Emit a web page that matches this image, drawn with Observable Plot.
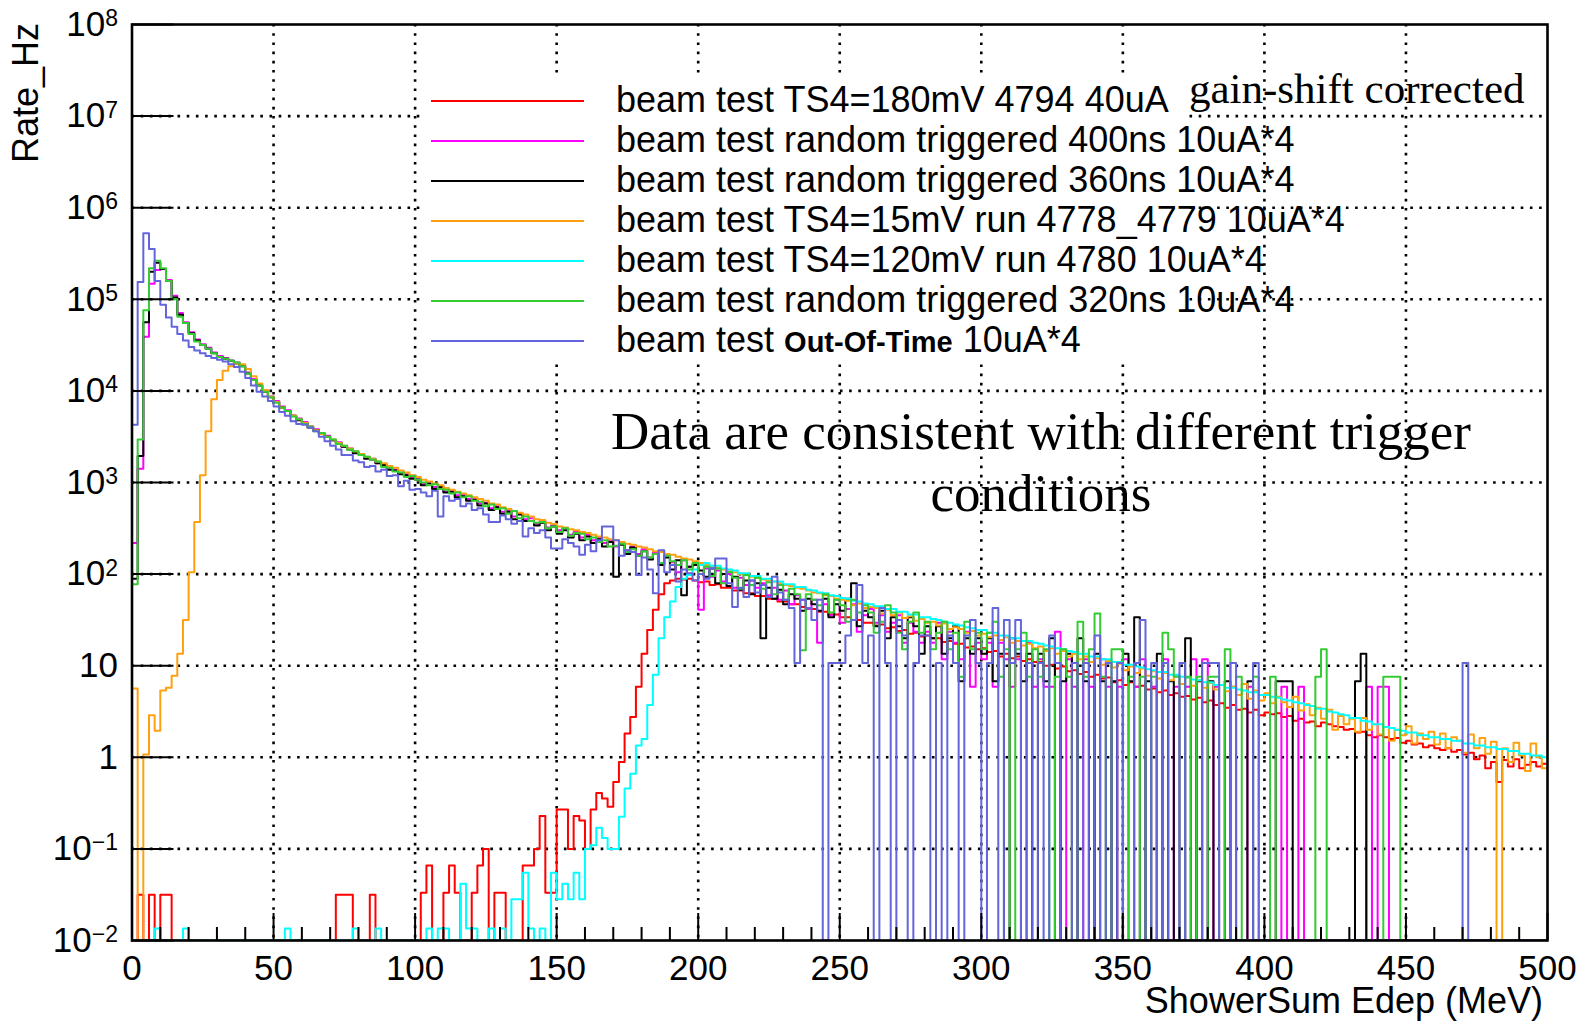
<!DOCTYPE html>
<html><head><meta charset="utf-8">
<script src="https://cdn.jsdelivr.net/npm/d3@7"></script>
<script src="https://cdn.jsdelivr.net/npm/@observablehq/plot@0.6"></script>
<style>
html,body{margin:0;padding:0;background:#fff;overflow:hidden;}
#chart{position:relative;width:1580px;height:1023px;}
</style></head><body><div id="chart"></div>
<script>
// ShowerSum Edep histograms, 2 MeV bins from 0 to 500 MeV.
// Values: log10(Rate in Hz) per bin; -2 = empty bin (ROOT draws it at the axis minimum 1e-2).
const binWidthMeV = 2;
const binLowEdges = d3.range(0, 500, 2);

const seriesLabels = [
  "beam test TS4=180mV 4794 40uA",
  "beam test random triggered 400ns 10uA*4",
  "beam test random triggered 360ns 10uA*4",
  "beam test TS4=15mV run 4778_4779 10uA*4",
  "beam test TS4=120mV run 4780 10uA*4",
  "beam test random triggered 320ns 10uA*4",
  "beam test Out-Of-Time 10uA*4"
];
const seriesColors = ["#ff0000", "#ff00ff", "#000000", "#ffa010", "#00ffff", "#33cc33", "#6464dc"];

const redLog = [
-2,-1.5,-2,-1.5,-2,-1.5,-1.5,-2,-2,-2,
-2,-2,-2,-2,-2,-2,-2,-2,-2,-2,
-2,-2,-2,-2,-2,-2,-2,-2,-2,-2,
-2,-2,-2,-2,-2,-2,-1.5,-1.5,-1.5,-2,
-2,-2,-1.5,-2,-2,-2,-2,-2,-2,-2,
-2,-1.48,-1.18,-2,-2,-1.48,-1.18,-1.48,-2,-2,
-1.48,-1.18,-1.0,-2,-1.48,-1.48,-2,-2,-2,-1.18,
-1.18,-1.0,-0.64,-1.48,-1.48,-0.57,-0.57,-1.0,-0.64,-0.69,
-1.0,-0.57,-0.39,-0.45,-0.54,-0.27,-0.05,0.26,0.44,0.77,
1.13,1.39,1.61,1.78,1.9,1.93,1.95,1.94,1.95,1.93,
1.91,1.92,1.88,1.89,1.85,1.85,1.82,1.82,1.79,1.79,
1.76,1.76,1.73,1.73,1.70,1.70,1.67,1.67,1.64,1.63,
1.62,1.59,1.59,1.56,1.56,1.53,1.53,1.50,1.50,1.47,
1.47,1.44,1.45,1.41,1.42,1.38,1.39,1.35,1.36,1.32,
1.33,1.30,1.30,1.26,1.27,1.24,1.24,1.20,1.21,1.18,
1.19,1.15,1.16,1.10,1.13,1.08,1.10,1.05,1.07,1.04,
1.04,1.00,1.01,0.97,0.99,0.94,0.95,0.91,0.93,0.88,
0.90,0.86,0.87,0.82,0.84,0.79,0.82,0.77,0.78,0.74,
0.75,0.71,0.73,0.68,0.70,0.66,0.67,0.63,0.65,0.60,
0.62,0.57,0.59,0.54,0.57,0.52,0.53,0.49,0.52,0.46,
0.49,0.47,0.48,0.44,0.45,0.40,0.42,0.38,0.39,0.34,
0.38,0.36,0.34,0.33,0.30,0.31,0.27,0.28,0.24,0.22,
0.24,0.22,0.20,0.21,0.16,0.18,0.14,0.15,0.11,0.13,
0.10,0.08,0.10,0.06,0.08,0.03,0.05,-0.02,0.02,-0.12,
-0.05,-0.27,-0.03,-0.10,-0.02,-0.12,-0.08,-0.05,-0.10,-0.07
];

const magentaLog = [
2.34,3.15,4.59,5.17,5.32,5.33,5.21,5.04,4.85,4.75,
4.64,4.56,4.51,4.47,4.42,4.38,4.36,4.33,4.31,4.28,
4.20,4.13,4.07,4.00,3.94,3.89,3.83,3.79,3.73,3.70,
3.66,3.61,3.58,3.54,3.51,3.46,3.44,3.39,3.37,3.33,
3.31,3.27,3.26,3.21,3.20,3.15,3.14,3.10,3.09,3.05,
3.04,2.99,3.00,2.95,2.96,2.90,2.91,2.86,2.87,2.82,
2.82,2.77,2.78,2.72,2.74,2.68,2.70,2.63,2.66,2.60,
2.61,2.55,2.58,2.51,2.53,2.48,2.50,2.43,2.46,2.40,
2.43,2.37,2.40,2.34,2.36,2.30,2.34,2.26,2.30,2.22,
2.27,2.18,2.24,2.10,2.20,2.13,2.02,2.15,2.08,2.11,
1.61,2.06,1.97,2.04,1.92,2.00,1.85,1.96,1.88,1.93,
1.85,1.90,1.77,1.85,1.72,1.82,1.67,1.77,1.72,1.62,
1.72,1.25,1.67,1.55,1.72,1.47,1.62,1.67,1.37,1.55,
1.62,1.47,1.55,1.37,1.47,1.55,1.25,1.47,1.37,1.25,
1.37,1.25,1.47,1.07,1.37,1.25,1.07,1.37,0.77,1.25,
1.07,1.25,0.77,1.25,1.07,0.77,1.07,-2,1.25,0.77,
1.07,0.77,0.77,1.37,-2,1.07,0.77,-2,1.07,0.77,
-2,1.07,0.77,-2,0.77,1.07,-2,0.77,1.07,-2,
0.77,-2,1.07,-2,0.77,-2,0.77,1.07,-2,1.07,
-2,0.77,-2,-2,0.77,-2,-2,0.77,-2,-2,
-2,-2,-2,0.77,-2,-2,0.77,-2,-2,-2,
-2,-2,-2,-2,-2,-2,-2,-2,0.77,-2,
0.77,0.77,-2,-2,-2,-2,-2,-2,-2,-2,
-2,-2,-2,-2,-2,-2,-2,-2,-2,-2,
-2,-2,-2,-2,-2,-2,-2,-2,-2,-2
];

const blackLog = [
1.95,3.29,4.75,5.30,5.40,5.33,5.20,5.02,4.83,4.74,
4.63,4.55,4.50,4.46,4.41,4.37,4.35,4.33,4.30,4.27,
4.19,4.12,4.06,3.99,3.93,3.88,3.82,3.78,3.73,3.68,
3.65,3.60,3.57,3.53,3.50,3.46,3.43,3.39,3.36,3.32,
3.31,3.26,3.25,3.21,3.19,3.14,3.13,3.09,3.08,3.04,
3.03,2.97,2.99,2.93,2.95,2.89,2.90,2.84,2.85,2.80,
2.81,2.75,2.77,2.70,2.73,2.66,2.68,2.60,2.65,2.58,
2.58,2.53,2.56,2.48,2.52,2.44,2.48,2.40,2.44,2.37,
2.41,2.34,2.38,2.30,2.35,1.97,2.32,2.22,2.29,2.20,
2.25,2.16,2.22,2.10,2.18,2.05,2.15,1.77,2.08,2.10,
2.04,1.97,2.06,1.90,2.00,1.87,1.97,1.83,1.93,1.78,
1.90,1.30,1.85,1.73,1.83,1.67,1.78,1.73,1.60,1.73,
1.67,1.60,1.73,1.53,1.67,1.60,1.73,1.90,1.43,1.60,
1.53,1.43,1.60,1.30,1.53,1.43,1.30,1.53,1.43,1.13,
1.43,1.30,1.43,1.13,1.30,1.43,0.83,1.30,1.13,1.30,
1.13,1.30,0.83,1.13,-2,1.30,1.13,0.83,1.13,-2,
1.13,0.83,1.30,-2,0.83,1.13,-2,1.30,0.83,-2,
1.13,0.83,-2,0.83,-2,1.13,0.83,1.53,-2,0.83,
-2,1.13,-2,0.83,-2,-2,1.30,-2,0.83,-2,
0.83,-2,-2,0.83,-2,-2,-2,0.83,-2,-2,
-2,-2,0.83,0.83,0.83,-2,-2,-2,-2,-2,
-2,-2,-2,-2,-2,-2,0.83,1.13,-2,-2,
-2,-2,-2,-2,-2,-2,-2,-2,-2,-2,
-2,-2,-2,-2,-2,-2,-2,-2,-2,-2,
-2,-2,-2,-2,-2,-2,-2,-2,-2,-2
];

const orangeLog = [
0.75,-2,0.03,0.46,0.29,0.73,0.76,0.89,1.13,1.50,
2.02,2.57,3.08,3.56,3.91,4.12,4.22,4.27,4.30,4.29,
4.24,4.16,4.08,4.01,3.94,3.88,3.82,3.78,3.73,3.69,
3.65,3.61,3.57,3.53,3.50,3.47,3.43,3.40,3.37,3.34,
3.31,3.28,3.26,3.23,3.21,3.18,3.16,3.13,3.11,3.08,
3.06,3.03,3.01,2.99,2.97,2.94,2.92,2.90,2.88,2.86,
2.84,2.82,2.80,2.77,2.76,2.73,2.71,2.69,2.67,2.65,
2.63,2.60,2.59,2.56,2.55,2.52,2.51,2.49,2.48,2.46,
2.45,2.43,2.41,2.40,2.38,2.37,2.35,2.33,2.32,2.30,
2.29,2.27,2.25,2.24,2.22,2.21,2.19,2.17,2.16,2.14,
2.12,2.10,2.09,2.07,2.05,2.03,2.02,2.00,1.99,1.97,
1.96,1.94,1.93,1.92,1.90,1.88,1.87,1.85,1.84,1.82,
1.80,1.79,1.77,1.76,1.73,1.72,1.71,1.66,1.68,1.63,
1.64,1.63,1.57,1.61,1.55,1.58,1.52,1.54,1.49,1.51,
1.47,1.48,1.44,1.46,1.40,1.42,1.40,1.36,1.38,1.33,
1.35,1.31,1.33,1.28,1.31,1.25,1.27,1.22,1.24,1.19,
1.21,1.16,1.19,1.13,1.16,1.10,1.13,1.07,1.10,1.04,
1.08,1.01,1.05,0.98,1.02,0.95,0.99,0.92,0.97,0.89,
0.94,0.86,0.92,0.84,0.89,0.80,0.87,0.78,0.84,0.76,
0.81,0.74,0.79,0.72,0.77,0.68,0.80,0.64,0.73,0.62,
0.70,0.59,0.66,0.60,0.55,0.66,0.51,0.58,0.46,0.54,
0.42,0.52,0.30,0.45,0.36,0.42,0.28,0.43,0.30,0.36,
0.25,0.33,0.18,0.30,0.24,0.34,0.15,0.26,0.20,0.28,
0.14,0.26,0.10,0.22,0.18,0.05,0.25,0.10,0.21,0.04,
0.17,-2,0.10,-0.05,0.16,0.02,-0.15,0.15,0.00,-0.12
];

const cyanLog = [
-2,-2,-2,-2,-1.87,-2,-2,-2,-2,-1.87,
-2,-2,-2,-2,-2,-2,-2,-2,-2,-2,
-2,-2,-2,-2,-2,-2,-2,-1.87,-2,-2,
-2,-2,-2,-2,-2,-2,-2,-2,-2,-1.87,
-2,-2,-2,-1.87,-2,-2,-2,-2,-2,-2,
-2,-2,-1.87,-2,-1.87,-1.87,-2,-2,-1.38,-1.87,
-1.87,-2,-2,-1.87,-2,-1.87,-2,-1.55,-1.55,-1.26,
-1.87,-2,-1.87,-2,-1.26,-1.55,-1.38,-1.55,-1.26,-1.55,
-1.0,-0.96,-0.77,-0.88,-1.0,-1.0,-0.65,-0.34,-0.18,0.13,
0.2,0.57,0.9,1.3,1.53,1.7,1.86,1.95,1.99,2.05,
2.10,2.12,2.09,2.09,2.06,2.05,2.04,2.01,2.01,1.98,
1.98,1.95,1.95,1.92,1.92,1.89,1.89,1.86,1.86,1.83,
1.82,1.80,1.79,1.77,1.76,1.74,1.73,1.71,1.70,1.68,
1.67,1.65,1.65,1.62,1.62,1.59,1.59,1.56,1.56,1.53,
1.53,1.51,1.50,1.48,1.47,1.45,1.44,1.42,1.41,1.39,
1.39,1.36,1.36,1.33,1.33,1.30,1.30,1.27,1.27,1.25,
1.24,1.22,1.21,1.19,1.18,1.16,1.15,1.13,1.13,1.10,
1.10,1.07,1.07,1.04,1.04,1.01,1.01,0.99,0.98,0.96,
0.95,0.93,0.93,0.90,0.90,0.88,0.87,0.85,0.84,0.82,
0.82,0.79,0.79,0.76,0.76,0.74,0.73,0.71,0.71,0.68,
0.68,0.66,0.65,0.63,0.62,0.60,0.59,0.57,0.56,0.53,
0.53,0.50,0.49,0.47,0.46,0.43,0.43,0.40,0.39,0.36,
0.36,0.33,0.32,0.30,0.29,0.27,0.27,0.24,0.24,0.22,
0.22,0.20,0.20,0.18,0.18,0.15,0.15,0.13,0.13,0.11,
0.11,0.09,0.09,0.07,0.07,0.04,0.04,0.02,0.02,0.00
];

const greenLog = [
1.89,3.47,4.88,5.34,5.42,5.34,5.20,5.00,4.81,4.74,
4.62,4.54,4.50,4.46,4.41,4.37,4.35,4.33,4.31,4.27,
4.19,4.12,4.06,3.99,3.93,3.87,3.82,3.78,3.72,3.69,
3.64,3.61,3.56,3.54,3.50,3.47,3.42,3.40,3.36,3.34,
3.30,3.28,3.25,3.23,3.17,3.16,3.12,3.11,3.06,3.07,
3.03,3.00,2.97,2.98,2.93,2.92,2.88,2.89,2.84,2.85,
2.80,2.79,2.74,2.76,2.71,2.72,2.66,2.69,2.61,2.63,
2.58,2.56,2.57,2.50,2.52,2.46,2.50,2.42,2.45,2.44,
2.38,2.40,2.35,2.37,2.30,2.31,2.33,2.24,2.27,2.20,
2.25,2.18,2.22,2.12,2.20,2.14,2.10,2.15,2.05,2.12,
2.00,2.08,1.98,2.06,1.90,2.02,1.96,1.84,1.99,1.88,
1.96,1.84,1.91,1.78,1.88,1.72,1.84,1.78,1.17,1.78,
1.72,1.66,1.78,1.58,1.72,1.66,1.48,1.72,1.58,1.66,
1.58,1.36,1.48,1.66,1.58,1.36,1.18,1.48,1.58,1.36,
1.48,1.18,1.36,1.48,1.18,1.36,0.88,1.48,1.18,1.36,
1.18,1.36,1.48,0.88,1.18,-2,1.18,1.36,0.88,1.18,
0.88,1.18,-2,0.88,1.18,0.88,-2,1.48,0.88,1.18,
1.57,0.88,-2,1.18,1.18,-2,0.88,-2,0.88,-2,
0.88,-2,1.36,1.18,0.88,-2,0.88,-2,0.88,-2,
0.88,0.88,-2,1.18,-2,0.88,-2,-2,0.88,-2,
-2,0.88,-2,-2,-2,-2,-2,-2,-2,0.88,
1.18,-2,-2,-2,-2,-2,-2,-2,-2,-2,
-2,0.88,0.88,0.88,-2,-2,-2,-2,-2,-2,
-2,-2,-2,-2,-2,-2,-2,-2,-2,-2,
-2,-2,-2,-2,-2,-2,-2,-2,-2,-2
];

const blueLog = [
3.63,5.19,5.72,5.55,5.20,4.94,4.80,4.70,4.62,4.55,
4.48,4.44,4.41,4.38,4.36,4.34,4.32,4.29,4.26,4.21,
4.14,4.06,3.99,3.94,3.89,3.83,3.77,3.73,3.67,3.64,
3.63,3.60,3.56,3.50,3.45,3.40,3.36,3.30,3.30,3.24,
3.22,3.17,3.18,3.12,3.14,3.07,3.08,2.96,3.02,2.92,
2.93,2.89,2.85,2.91,2.63,2.85,2.80,2.82,2.74,2.77,
2.70,2.72,2.65,2.57,2.57,2.64,2.60,2.55,2.58,2.41,
2.50,2.45,2.48,2.40,2.28,2.28,2.38,2.34,2.30,2.21,
2.32,2.25,2.37,2.52,2.52,2.37,2.20,2.26,2.24,1.99,
2.18,2.05,1.79,2.26,2.02,2.10,1.92,2.05,2.01,1.93,
2.00,1.95,2.06,2.17,2.17,1.90,1.64,1.85,1.75,1.93,
1.80,1.88,1.75,1.97,1.80,1.72,1.63,1.03,1.72,1.63,
1.50,1.72,-2,1.03,1.03,1.03,1.33,1.50,1.88,1.03,
1.33,-2,1.63,1.03,-2,1.50,1.33,-2,1.03,1.33,
1.33,-2,1.03,-2,1.33,1.03,-2,1.33,1.50,1.03,
-2,1.03,1.63,-2,1.50,1.03,1.50,-2,1.03,-2,
1.03,-2,1.33,1.03,-2,-2,1.03,-2,1.03,-2,
1.33,-2,1.03,-2,1.03,-2,-2,1.03,1.50,-2,
1.03,-2,1.03,-2,-2,1.03,-2,-2,-2,1.03,
1.03,1.03,-2,-2,1.03,-2,-2,-2,1.03,-2,
-2,-2,-2,-2,-2,-2,-2,-2,-2,-2,
-2,-2,-2,-2,-2,-2,-2,-2,-2,-2,
-2,-2,-2,-2,-2,-2,-2,-2,-2,-2,
-2,-2,-2,-2,-2,1.03,-2,-2,-2,-2,
-2,-2,-2,-2,-2,-2,-2,-2,-2,-2
];

const xMajorTicks = [0, 50, 100, 150, 200, 250, 300, 350, 400, 450, 500];
const yMajorTicks = [1e-2, 1e-1, 1, 10, 1e2, 1e3, 1e4, 1e5, 1e6, 1e7, 1e8];

// drawing order as in the legend
const seriesLogs = [redLog, magentaLog, blackLog, orangeLog, cyanLog, greenLog, blueLog];

// ---------------------------------------------------------------
const W = 1580, H = 1023, mL = 131.5, mR = 33, mT = 24, mB = 83;
const plotW = W - mL - mR, plotH = H - mT - mB;

function outline(logs, name) {
  const rows = [];
  logs.forEach((v, k) => {
    const y = Math.pow(10, v);
    rows.push({name, x: binLowEdges[k], y});
    rows.push({name, x: binLowEdges[k] + binWidthMeV, y});
  });
  return rows;
}

const yMinorTicks = d3.scaleLog().domain([1e-2, 1e8]).ticks()
  .filter(t => !yMajorTicks.some(m => Math.abs(t / m - 1) < 1e-6));
const xMinorTicks = d3.range(0, 501, 10).filter(t => t % 50 !== 0);

const dotted = {stroke: "black", strokeWidth: 2.6, strokeDasharray: "2.6,6.6"};

const histMarks = seriesLogs.map((logs, i) =>
  Plot.line(outline(logs, seriesLabels[i]), {x: "x", y: "y", stroke: seriesColors[i], strokeWidth: 2, clip: true, curve: "linear"})
);

function yFmt(d) {
  const e = Math.round(Math.log10(d));
  if (e === 0) return "1";
  if (e === 1) return "10";
  return "10^" + (e < 0 ? "\u2212" + (-e) : e);
}

const chart = Plot.plot({
  width: W, height: H,
  marginLeft: mL, marginRight: mR, marginTop: mT, marginBottom: mB,
  style: {fontFamily: "'Liberation Sans', Arial, Helvetica, sans-serif", background: "white", color: "black", overflow: "visible"},
  x: {domain: [0, 500], label: null},
  y: {type: "log", domain: [1e-2, 1e8], label: null},
  marks: [
    Plot.ruleY(yMajorTicks.slice(1, -1), dotted),
    Plot.ruleX(xMajorTicks.slice(1, -1), dotted),
    ...histMarks,
    Plot.tickY(yMinorTicks, {y: d => d, insetRight: plotW - 21, stroke: "black", strokeWidth: 2}),
    Plot.tickY(yMajorTicks, {y: d => d, insetRight: plotW - 42, stroke: "black", strokeWidth: 2}),
    Plot.tickX(xMinorTicks, {x: d => d, insetTop: plotH - 13, stroke: "black", strokeWidth: 2}),
    Plot.tickX(xMajorTicks, {x: d => d, insetTop: plotH - 27, stroke: "black", strokeWidth: 2}),
    Plot.axisX(xMajorTicks, {tickSize: 0, tickPadding: 15, fontSize: 35, label: null, tickFormat: d => String(d)}),
    Plot.axisY(yMajorTicks, {tickSize: 0, tickPadding: 14, fontSize: 35, label: null, tickFormat: yFmt}),
    Plot.frame({stroke: "black", strokeWidth: 2.6})
  ]
});

document.getElementById("chart").appendChild(chart);

const svg = d3.select(chart.tagName.toLowerCase() === "svg" ? chart : chart.querySelector("svg"));

// superscript exponents on the y tick labels
svg.selectAll("text").each(function () {
  const t = this.textContent;
  const m = /^10\^(.+)$/.exec(t);
  if (m) {
    const sel = d3.select(this);
    sel.text(null);
    sel.append("tspan").text("10");
    sel.append("tspan").attr("dy", "-0.42em").attr("font-size", "23px").text(m[1]);
  }
});

const sans = "'Liberation Sans', Arial, Helvetica, sans-serif";
const serif = "'Liberation Serif', 'Times New Roman', Times, serif";

// axis titles
svg.append("text").attr("x", 1543).attr("y", 1013).attr("text-anchor", "end")
  .attr("font-family", sans).attr("font-size", 36).attr("fill", "black").text("ShowerSum Edep (MeV)");
svg.append("text").attr("transform", "translate(38,23) rotate(-90)").attr("text-anchor", "end")
  .attr("font-family", sans).attr("font-size", 36).attr("fill", "black").text("Rate_Hz");

// legend
const lg = svg.append("g").attr("text-anchor", "start");
lg.append("rect").attr("x", 422).attr("y", 77).attr("width", 763).attr("height", 281).attr("fill", "white");
seriesLabels.forEach((lab, i) => {
  const y = 101 + 40 * i;
  lg.append("line").attr("x1", 431).attr("x2", 584).attr("y1", y).attr("y2", y)
    .attr("stroke", seriesColors[i]).attr("stroke-width", 2.2);
  const t = lg.append("text").attr("x", 616).attr("y", y + 11).attr("text-anchor", "start")
    .attr("font-family", sans).attr("font-size", 36).attr("fill", "black");
  if (lab.includes("Out-Of-Time")) {
    t.append("tspan").text("beam test ");
    t.append("tspan").attr("font-weight", "bold").attr("font-size", 29).text("Out-Of-Time");
    t.append("tspan").text(" 10uA*4");
  } else {
    t.text(lab);
  }
});

// annotations
svg.append("text").attr("x", 1189).attr("y", 103).attr("text-anchor", "start").attr("font-family", serif)
  .attr("font-size", 43).attr("fill", "black").text("gain-shift corrected");
svg.append("text").attr("x", 1041).attr("y", 449).attr("text-anchor", "middle").attr("font-family", serif)
  .attr("font-size", 53).attr("fill", "black").text("Data are consistent with different trigger");
svg.append("text").attr("x", 1041).attr("y", 511).attr("text-anchor", "middle").attr("font-family", serif)
  .attr("font-size", 53).attr("fill", "black").text("conditions");
</script>
</body></html>
